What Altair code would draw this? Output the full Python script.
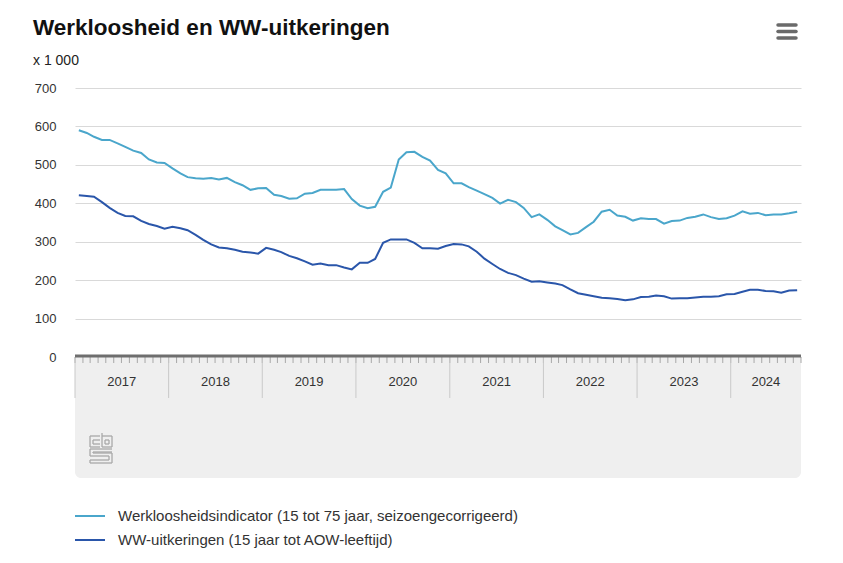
import altair as alt
import pandas as pd

# ---------------- data (x 1 000), monthly Jan 2017 - Sep 2024 ----------------
werkloosheid = [
    590, 583, 573, 565, 565, 556, 547, 537, 531, 514, 506, 505,   # 2017
    491, 478, 468, 465, 464, 466, 462, 466, 455, 447, 435, 439,   # 2018
    440, 422, 419, 412, 413, 425, 427, 435, 435, 435, 437, 411,   # 2019
    394, 387, 391, 430, 441, 514, 533, 534, 521, 511, 487, 478,   # 2020
    452, 452, 442, 433, 424, 414, 399, 409, 403, 388, 364, 371,   # 2021
    357, 340, 330, 319, 323, 338, 352, 378, 383, 368, 365, 355,   # 2022
    361, 359, 359, 347, 354, 355, 362, 365, 371, 364, 359, 361,   # 2023
    368, 379, 373, 375, 369, 371, 371, 374, 378,                  # 2024
]
ww_uitkeringen = [
    421, 419, 417, 403, 388, 375, 367, 366, 354, 346, 341, 334,   # 2017
    339, 335, 330, 318, 305, 293, 285, 283, 279, 274, 272, 269,   # 2018
    284, 279, 273, 263, 257, 249, 240, 243, 239, 239, 233, 228,   # 2019
    245, 245, 255, 297, 306, 306, 306, 297, 283, 283, 282, 289,   # 2020
    294, 293, 288, 274, 256, 242, 229, 219, 213, 204, 196, 197,   # 2021
    194, 191, 187, 176, 166, 162, 158, 154, 153, 151, 148, 150,   # 2022
    156, 157, 160, 158, 152, 153, 153, 155, 157, 157, 158, 163,   # 2023
    164, 170, 175, 175, 172, 171, 167, 173, 174,                  # 2024
]
jaren = ["2017", "2018", "2019", "2020", "2021", "2022", "2023", "2024"]
y_ticks = [0, 100, 200, 300, 400, 500, 600, 700]

reeks_1 = "Werkloosheidsindicator (15 tot 75 jaar, seizoengecorrigeerd)"
reeks_2 = "WW-uitkeringen (15 jaar tot AOW-leeftijd)"
titel = "Werkloosheid en WW-uitkeringen"
eenheid = "x 1 000"

LIGHT = "#4aa6cb"
DARK = "#2a56aa"
FONT = "Liberation Sans, Arial, sans-serif"

# ---------------- tables ----------------
n = len(werkloosheid)
maanden = pd.date_range("2017-01-01", periods=n, freq="MS")
datum = maanden + pd.Timedelta(days=15)
df = pd.DataFrame({"datum": datum, reeks_1: werkloosheid, reeks_2: ww_uitkeringen})
long = df.melt("datum", var_name="reeks", value_name="waarde")

eind = maanden[-1] + pd.offsets.MonthBegin(1)
maandgrenzen = pd.DataFrame({"d": list(maanden) + [eind]})
jaarstart = [pd.Timestamp(f"{j}-01-01") for j in jaren]
jaareind = jaarstart[1:] + [eind]
jaar_df = pd.DataFrame({
    "start": jaarstart,
    "eind": jaareind,
    "mid": [a + (b - a) / 2 for a, b in zip(jaarstart, jaareind)],
    "jaar": jaren,
})

W, H = 726, 269
xscale = alt.Scale(domain=[alt.DateTime(year=2017, month=1, date=1),
                           alt.DateTime(year=2024, month=10, date=1)])
yscale = alt.Scale(domain=[0, 700])
yaxis_def = alt.Axis(
    values=y_ticks, tickCount=8, domain=False, ticks=False, labelPadding=19, labelOverlap=False,
    labelFontSize=13, labelColor="#333333", labelFont=FONT,
    gridColor="#d9d9d9", gridWidth=1, title=None)

one = pd.DataFrame({"a": [0]})

# grey band under the axis
band = alt.Chart(pd.DataFrame({"s": [jaarstart[0]], "e": [eind]})).mark_rect(
    color="#efefef", cornerRadiusBottomLeft=6, cornerRadiusBottomRight=6
).encode(
    x=alt.X("s:T", scale=xscale, axis=None), x2="e:T",
    y=alt.value(H), y2=alt.value(H + 121),
)

# gridlines + y labels
yaxis = alt.Chart(pd.DataFrame({"v": y_ticks})).mark_rule(opacity=0).encode(
    y=alt.Y("v:Q", scale=yscale, axis=yaxis_def),
)

maandticks = alt.Chart(maandgrenzen).mark_rule(color="#a8a8a8", strokeWidth=1).encode(
    x=alt.X("d:T", scale=xscale), y=alt.value(H), y2=alt.value(H + 6),
)
jaarlijnen = alt.Chart(jaar_df).mark_rule(color="#c9c9c9", strokeWidth=1).encode(
    x=alt.X("start:T", scale=xscale), y=alt.value(H), y2=alt.value(H + 41),
)
jaarlabels = alt.Chart(jaar_df).mark_text(
    fontSize=13, font=FONT, color="#333333", baseline="middle"
).encode(
    x=alt.X("mid:T", scale=xscale), y=alt.value(H + 25), text="jaar:N",
)
aslijn = alt.Chart(one).mark_rule(color="#6e6e6e", strokeWidth=3).encode(
    x=alt.value(0), x2=alt.value(W), y=alt.value(H - 1),
)

lijnen = alt.Chart(long).mark_line(strokeWidth=2).encode(
    x=alt.X("datum:T", scale=xscale),
    y=alt.Y("waarde:Q", scale=yscale, axis=yaxis_def),
    color=alt.Color("reeks:N", scale=alt.Scale(domain=[reeks_1, reeks_2], range=[LIGHT, DARK]),
                    legend=None),
)

# legend (two entries)
def legend_item(label, colour, ypix):
    ln = alt.Chart(one).mark_rule(strokeWidth=2, color=colour).encode(
        x=alt.value(0), x2=alt.value(30), y=alt.value(ypix))
    tx = alt.Chart(one).mark_text(
        align="left", baseline="middle", fontSize=15, font=FONT, color="#333333", text=label
    ).encode(x=alt.value(43), y=alt.value(ypix))
    return [ln, tx]

legend_layers = legend_item(reeks_1, LIGHT, 428) + legend_item(reeks_2, DARK, 452)

title_t = alt.Chart(one).mark_text(
    align="left", baseline="alphabetic", fontSize=22.5, fontWeight="bold", font=FONT, color="#111111",
    text=titel,
).encode(x=alt.value(-42), y=alt.value(-53))
unit_t = alt.Chart(one).mark_text(
    align="left", baseline="alphabetic", fontSize=14, font=FONT, color="#222222", text=eenheid,
).encode(x=alt.value(-42), y=alt.value(-23))

menu_layers = [
    alt.Chart(one).mark_rule(color="#6a6a6a", strokeWidth=3.5, strokeCap="round").encode(
        x=alt.value(703), x2=alt.value(721), y=alt.value(yy))
    for yy in (-63, -56.5, -50)
]

# small cbs logo (decoration)
ox, oy = 15, 345
segs = [
    # c
    (0, 3, 10, 3), (0, 3, 0, 14), (0, 14, 10, 14), (3, 7, 10, 7), (3, 7, 3, 11), (3, 11, 10, 11),
    # b
    (12, 0, 12, 14), (12, 3, 22, 3), (22, 3, 22, 14), (12, 14, 22, 14),
    (15, 7, 19, 7), (19, 7, 19, 11), (15, 11, 19, 11), (15, 7, 15, 11),
    # S
    (0, 16, 22, 16), (0, 16, 0, 23), (0, 23, 19, 23), (3, 19, 22, 19), (3, 19, 3, 20), (3, 20, 22, 20),
    (22, 20, 22, 30), (19, 23, 19, 27), (0, 27, 19, 27), (0, 30, 22, 30), (0, 27, 0, 30),
]
logo_df = pd.DataFrame(segs, columns=["x", "y", "x2", "y2"])
logo_df[["x", "x2"]] += ox
logo_df[["y", "y2"]] += oy
logo = alt.Chart(logo_df).mark_rule(color="#a9a9a9", strokeWidth=1.3).encode(
    x=alt.X("x:Q", scale=None), x2="x2:Q", y=alt.Y("y:Q", scale=None), y2="y2:Q",
)

chart = alt.layer(
    band, yaxis, maandticks, jaarlijnen, jaarlabels, lijnen, aslijn,
    *legend_layers, title_t, unit_t, *menu_layers, logo,
).properties(
    width=W, height=H,
    padding={"left": 67, "top": 80, "right": 34, "bottom": 198},
    autosize=alt.AutoSizeParams(type="none"),
).configure_view(stroke=None)

chart.save("out.html", embed_options={"renderer": "svg", "actions": False})
